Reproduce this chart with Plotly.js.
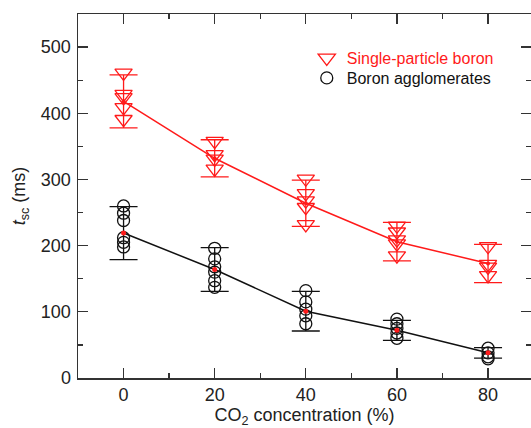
<!DOCTYPE html>
<html>
<head>
<meta charset="utf-8">
<script src="https://cdn.plot.ly/plotly-3.0.1.min.js"></script>
<style>html,body{margin:0;padding:0;background:#fff;}#chart{width:531px;height:428px;}</style>
</head>
<body>
<div id="chart"></div>
<script>
// CO2 concentration (%)
const co2 = [0, 20, 40, 60, 80];
// Individual measurements, one list per concentration (ms)
const singleRuns = [
  [461, 429, 424, 409, 391],
  [358, 338, 331, 316],
  [301, 279, 268, 258, 232],
  [230, 221, 209, 203, 185],
  [199, 172, 168, 155]
];
const agglomRuns = [
  [260, 249, 238, 212, 205, 198],
  [196, 180, 168, 160, 147, 137],
  [132, 115, 104, 94, 82],
  [89, 82, 75, 68, 60],
  [45, 38, 32, 29]
];
// Mean values and error (ms)
const singleMean = [418, 332, 264, 206, 173];
const singleErr  = [40, 28, 35, 29, 29];
const agglomMean = [219, 164, 101, 72, 38];
const agglomErr  = [40, 33, 30, 15, 8];
const xTicks = [0, 20, 40, 60, 80];
const yTicks = [0, 100, 200, 300, 400, 500];

function flatX(runs){ const o=[]; runs.forEach((r,i)=>r.forEach(()=>o.push(co2[i]))); return o; }
function flatY(runs){ const o=[]; runs.forEach(r=>r.forEach(v=>o.push(v))); return o; }

const RED = '#ff1a1a';
const BLK = '#111111';
const FONT = 'Liberation Sans, Arial, sans-serif';

const traces = [
  {
    x: flatX(agglomRuns), y: flatY(agglomRuns), type: 'scatter', mode: 'markers',
    name: 'Boron agglomerates', legend: 'legend2',
    marker: {symbol: 'circle-open', size: 12, color: BLK, line: {width: 1.3, color: BLK}}
  },
  {
    x: co2, y: agglomMean, type: 'scatter', mode: 'lines+markers', showlegend: false,
    line: {color: BLK, width: 1.5},
    marker: {symbol: 'circle', size: 5, color: RED},
    error_y: {type: 'data', array: agglomErr, visible: true, color: BLK, thickness: 1.3, width: 14}
  },
  {
    x: flatX(singleRuns), y: flatY(singleRuns), type: 'scatter', mode: 'markers',
    name: 'Single-particle boron', legend: 'legend',
    marker: {symbol: 'triangle-down-open', size: 15, color: RED, line: {width: 1.3, color: RED}}
  },
  {
    x: co2, y: singleMean, type: 'scatter', mode: 'lines+markers', showlegend: false,
    line: {color: RED, width: 1.5},
    marker: {symbol: 'circle', size: 4, color: RED},
    error_y: {type: 'data', array: singleErr, visible: true, color: RED, thickness: 1.3, width: 14}
  }
];

const axisCommon = {
  showline: true, linecolor: '#333', linewidth: 1.5, mirror: 'ticks',
  ticks: 'inside', ticklen: 10, tickwidth: 1.3, tickcolor: '#333',
  showgrid: false, zeroline: false,
  tickfont: {family: FONT, size: 18, color: '#222'}
};

const legendCommon = {
  x: 0.505, xanchor: 'left', yanchor: 'middle',
  bgcolor: 'rgba(0,0,0,0)', borderwidth: 0, itemwidth: 30
};

const layout = {
  width: 531, height: 428,
  margin: {l: 78, r: 0, t: 14, b: 50, pad: 0},
  paper_bgcolor: '#fff', plot_bgcolor: '#fff',
  font: {family: FONT, size: 18, color: '#222'},
  showlegend: true,
  legend: Object.assign({}, legendCommon, {y: 1 - (58 - 14) / 364, font: {family: FONT, size: 16, color: RED}}),
  legend2: Object.assign({}, legendCommon, {y: 1 - (78 - 14) / 364, font: {family: FONT, size: 16, color: BLK}}),
  xaxis: Object.assign({}, axisCommon, {
    range: [-10, 89.43], tickmode: 'array', tickvals: xTicks, ticktext: xTicks.map(String),
    minor: {tickmode: 'linear', tick0: 0, dtick: 10, ticks: 'inside', ticklen: 5, tickwidth: 1.3, tickcolor: '#333'},
    automargin: true,
    title: {text: 'CO<sub>2</sub> concentration (%)', font: {family: FONT, size: 18, color: '#222'}, standoff: 8}
  }),
  yaxis: Object.assign({}, axisCommon, {
    range: [0, 550], tickmode: 'array', tickvals: yTicks, ticktext: yTicks.map(String),
    minor: {tickmode: 'linear', tick0: 0, dtick: 50, ticks: 'inside', ticklen: 5, tickwidth: 1.3, tickcolor: '#333'},
    ticklabelstandoff: 2,
    title: {text: '<i>t</i><sub>sc</sub> (ms)', font: {family: FONT, size: 18, color: '#222'}, standoff: 10}
  })
};

Plotly.newPlot('chart', traces, layout, {displayModeBar: false, staticPlot: true});
</script>
</body>
</html>
